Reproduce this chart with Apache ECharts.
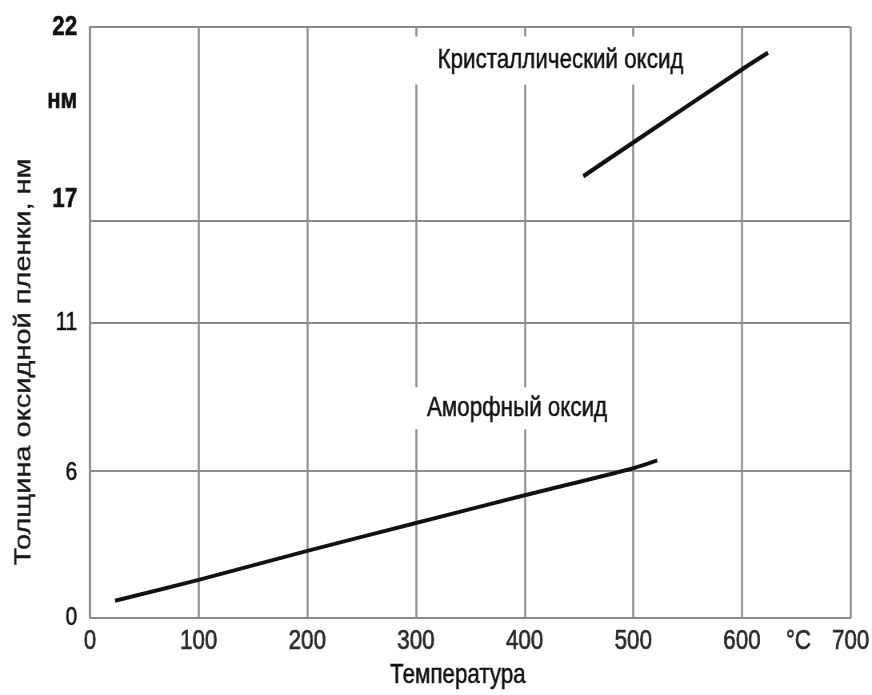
<!DOCTYPE html>
<html>
<head>
<meta charset="utf-8">
<script src="https://cdn.jsdelivr.net/npm/echarts@6/dist/echarts.min.js"></script>
<style>
html,body{margin:0;padding:0;background:#fff;overflow:hidden;width:872px;height:695px}
#c{width:1090px;height:695px;transform:scaleX(0.8);transform-origin:0 0}
</style>
</head>
<body>
<div id="c"></div>
<script>
// ---- data ----
const amorphT = [23, 100, 200, 300, 400, 500, 522];
const amorphH = [0.63, 1.41, 2.49, 3.53, 4.56, 5.57, 5.86];
const crystT = [454, 500, 600, 624];
const crystH = [16.44, 17.7, 20.42, 21.04];

// y-axis grid lines and tick labels (the original scale is irregular)
const yGridValues = [0, 5.49, 10.98, 14.8, 22];
const yLabelValues = [0, 5.4, 10.98, 15.58, 19.26, 22];
const yLabelTexts = ['0', '6', '11', '17', 'нм', '22'];
const yLabelBold = [false, false, false, true, true, true];

const xLabelValues = [0, 100, 200, 300, 400, 500, 600, 652, 700];
const xLabelTexts = ['0', '100', '200', '300', '400', '500', '600', '°C', '700'];

const annotations = [
  { name: 'Кристаллический оксид', t: 433, h: 20.75 },
  { name: 'Аморфный оксид', t: 393, h: 7.8 }
];

const xTitle = 'Температура';
const yTitle = 'Толщина оксидной пленки, нм';

const font = "'Liberation Sans', Arial, sans-serif";
const gridColor = '#8c8c8c';

function pick(values, v) {
  let best = 0, d = Infinity;
  values.forEach((x, i) => { if (Math.abs(x - v) < d) { d = Math.abs(x - v); best = i; } });
  return best;
}

const chart = echarts.init(document.getElementById('c'), null, { renderer: 'canvas' });
chart.setOption({
  backgroundColor: '#fff',
  animation: false,
  grid: { left: 112.5, right: 26, top: 27, bottom: 75, containLabel: false },
  xAxis: {
    type: 'value', min: 0, max: 700, interval: 100,
    name: xTitle, nameLocation: 'middle', nameGap: 44,
    nameTextStyle: { fontFamily: font, fontSize: 28, color: '#111', padding: [0, 31, 0, 0],
                     textBorderColor: '#111', textBorderWidth: 0.5 },
    axisLine: { show: true, lineStyle: { color: gridColor, width: 2 } },
    axisTick: { show: false },
    splitLine: { show: true, lineStyle: { color: gridColor, width: 2.5 } },
    axisLabel: {
      customValues: xLabelValues,
      margin: 10,
      fontFamily: font, fontSize: 28, color: '#2a2a2a',
      textBorderColor: '#2a2a2a', textBorderWidth: 0.7,
      formatter: v => xLabelTexts[pick(xLabelValues, v)]
    }
  },
  yAxis: {
    type: 'value', min: 0, max: 22,
    axisLine: { show: true, lineStyle: { color: gridColor, width: 2.5 } },
    axisTick: { show: false, customValues: yGridValues },
    splitLine: { show: true, lineStyle: { color: gridColor, width: 2 } },
    axisLabel: {
      customValues: yLabelValues,
      margin: 16,
      fontFamily: font, fontSize: 26, color: '#111',
      textBorderColor: '#111', textBorderWidth: 0.6,
      formatter: v => {
        const i = pick(yLabelValues, v);
        return yLabelBold[i] ? '{b|' + yLabelTexts[i] + '}' : yLabelTexts[i];
      },
      rich: { b: { fontFamily: font, fontSize: 28, fontWeight: 'bold', color: '#111' } }
    }
  },
  graphic: [{
    type: 'text', x: 30, y: 362, rotation: Math.PI / 2,
    style: { text: yTitle, fontFamily: font, fontSize: 29,
             fill: '#1a1a1a', stroke: '#1a1a1a', lineWidth: 0.4,
             align: 'center', verticalAlign: 'middle' }
  }],
  series: [
    {
      type: 'line', name: 'Аморфный оксид',
      data: amorphT.map((t, i) => [t, amorphH[i]]),
      showSymbol: false, smooth: 0.3,
      lineStyle: { color: '#111', width: 4 },
      markPoint: {
        symbol: 'circle', symbolSize: 1, itemStyle: { color: 'rgba(0,0,0,0)' },
        label: { show: true, position: 'inside', formatter: '{b}', fontFamily: font, fontSize: 28,
                 color: '#111', textBorderColor: '#111', textBorderWidth: 0.5,
                 backgroundColor: '#fff', padding: [7, 18] },
        data: [{ name: annotations[1].name, coord: [annotations[1].t, annotations[1].h] }]
      }
    },
    {
      type: 'line', name: 'Кристаллический оксид',
      data: crystT.map((t, i) => [t, crystH[i]]),
      showSymbol: false, smooth: 0.3,
      lineStyle: { color: '#111', width: 4.5 },
      markPoint: {
        symbol: 'circle', symbolSize: 1, itemStyle: { color: 'rgba(0,0,0,0)' },
        label: { show: true, position: 'inside', formatter: '{b}', fontFamily: font, fontSize: 28,
                 color: '#111', textBorderColor: '#111', textBorderWidth: 0.5,
                 backgroundColor: '#fff', padding: [10, 30] },
        data: [{ name: annotations[0].name, coord: [annotations[0].t, annotations[0].h] }]
      }
    }
  ]
});
</script>
</body>
</html>
